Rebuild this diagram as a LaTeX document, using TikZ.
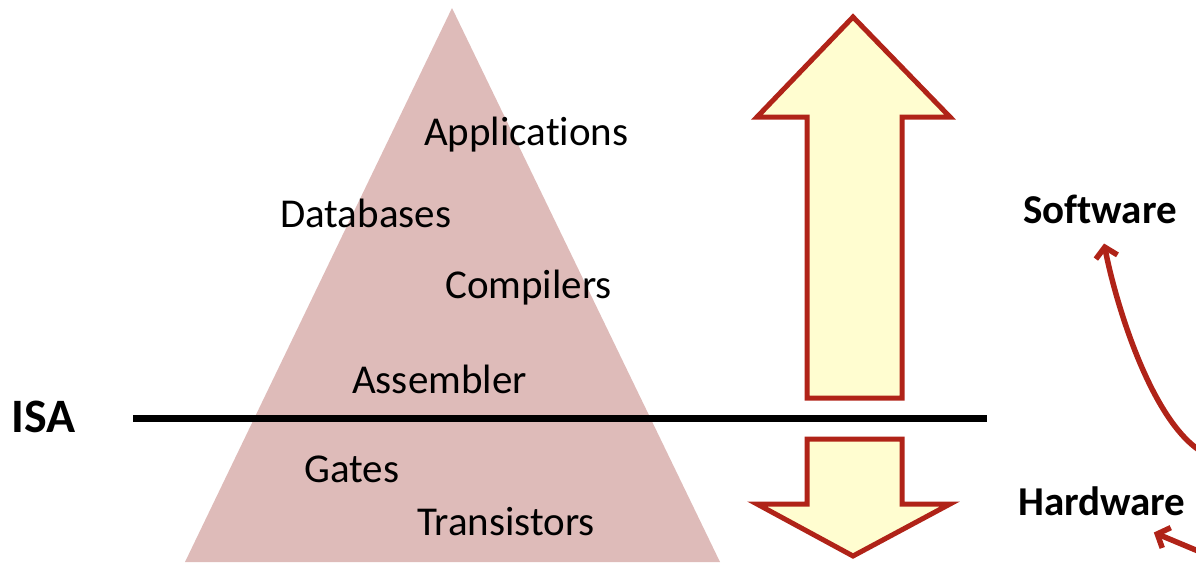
\documentclass[tikz,border=0pt]{standalone}
\usepackage{fontspec}
\setmainfont{Carlito}[Ligatures=NoCommon]
\usepackage{tikz}
\usetikzlibrary{calc,arrows.meta}
\definecolor{arrowred}{RGB}{176,35,24}
\definecolor{paleyellow}{RGB}{255,253,208}
\definecolor{pyramidpink}{RGB}{222,187,185}

\begin{document}
\begin{tikzpicture}[x=1pt,y=-1pt,
    layer/.style={inner sep=0pt,anchor=base west,font=\fontsize{41}{48}\selectfont},
    side/.style={inner sep=0pt,anchor=base west,font=\fontsize{41}{48}\selectfont\bfseries},
    bigarrow/.style={draw=arrowred,fill=paleyellow,line width=5pt,miter limit=20},
    pointer/.style={draw=arrowred,line width=5.5pt,line cap=round,-{Straight Barb[length=10pt,width=22pt]}}]
    \useasboundingbox (0,0) rectangle (1196,570);
    % Define points
    \coordinate (apex) at (452,8);
    \coordinate (baseL) at (185,562);
    \coordinate (baseR) at (720,562);
    % Pyramid
    \fill[pyramidpink] (apex) -- (baseL) -- (baseR) -- cycle;
    % Layers of the stack
    \node[layer] (app) at (424,145) {Applications};
    \node[layer] (db) at (280,227) {Databases};
    \node[layer] (comp) at (445,298) {Compilers};
    \node[layer] (asm) at (352,393) {Assembler};
    \node[layer] (gates) at (304,482) {Gates};
    \node[layer] (trans) at (417,535) {Transistors};
    % ISA line
    \node[inner sep=0pt,anchor=base west,font=\fontsize{48}{56}\selectfont\bfseries] (isa) at (11,432) {ISA};
    \coordinate (lineL) at (133,418.5);
    \coordinate (lineR) at (987,418.5);
    \draw[line width=7pt] (lineL) -- (lineR);
    % Big arrows
    \draw[bigarrow] (853,17) -- (950,117) -- (902,117) -- (902,398) -- (807,398)
        -- (807,117) -- (757,117) -- cycle;
    \draw[bigarrow] (807,439) -- (902,439) -- (902,504) -- (950,504) -- (853,556)
        -- (757,504) -- (807,504) -- cycle;
    % Software / Hardware
    \node[side] (sw) at (1023,223) {Software};
    \node[side] (hw) at (1018,515) {Hardware};
    \begin{scope}
    \clip (0,0) rectangle (1196,570);
    \coordinate (swfrom) at (1202,452);
    \coordinate (hwfrom) at (1210,556);
    \draw[pointer] (swfrom) .. controls (1150,420) and (1115,300) .. ($(sw.south)+(4,20)$);
    \draw[pointer] (hwfrom) -- ($(hw.south)+(52,17)$);
    \end{scope}
\end{tikzpicture}
\end{document}
